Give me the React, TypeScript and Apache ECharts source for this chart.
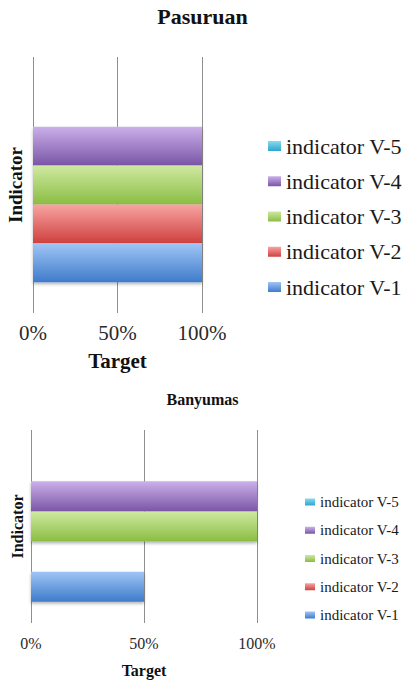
import React, { useEffect, useRef } from "react";
import * as echarts from "echarts";

// Indicator series, listed bottom (V-1) to top (V-5)
const indicators = ["indicator V-1", "indicator V-2", "indicator V-3", "indicator V-4", "indicator V-5"];
// Share of target reached, in percent
const pasuruanValues = [100, 100, 100, 100, 0];
const banyumasValues = [50, 0, 100, 100, 0];
const targetTicks = [0, 50, 100];

// Bar gradient stops (top light, bottom dark)
const barTop = ["#a0c5f6", "#f7a4a3", "#cfe9a1", "#cbb0ea", "#88dbf0"];
const barBottom = ["#3e7bcb", "#cf403e", "#8abd43", "#7a55a6", "#2ca6cd"];

const FONT = "Liberation Serif";

type Layout = {
  title: string;
  values: number[];
  titleTop: number;
  titleSize: number;
  grid: { left: number; right: number; top: number; bottom: number };
  tickSize: number;
  tickMargin: number;
  nameSize: number;
  xNameGap: number;
  yNameSize: number;
  yNameGap: number;
  categoryGap: string;
  legendLeft: number;
  legendTop: number;
  legendSize: number;
  legendLine: number;
  legendGap: number;
  legendWeight: string;
  iconW: number;
  iconH: number;
};

function buildOption(l: Layout) {
  const step = targetTicks[1] - targetTicks[0];
  // The first bar series sits at the top of the band, so V-5 goes first.
  const order = indicators.map((_, i) => indicators.length - 1 - i);
  return {
    animation: false,
    title: {
      text: l.title,
      left: "center",
      top: l.titleTop,
      textStyle: { fontFamily: FONT, fontWeight: "bold", fontSize: l.titleSize, color: "#111" },
    },
    legend: {
      orient: "vertical",
      left: l.legendLeft,
      top: l.legendTop,
      icon: "rect",
      itemWidth: l.iconW,
      itemHeight: l.iconH,
      itemGap: l.legendGap,
      itemTextGap: 3,
      selectedMode: false,
      data: order.map((i) => indicators[i]),
      textStyle: {
        fontFamily: FONT,
        fontSize: l.legendSize,
        lineHeight: l.legendLine,
        fontWeight: l.legendWeight,
        color: "#1a1a1a",
      },
    },
    grid: { ...l.grid, containLabel: false },
    xAxis: {
      type: "value",
      min: targetTicks[0],
      max: targetTicks[targetTicks.length - 1],
      interval: step,
      name: "Target",
      nameLocation: "middle",
      nameGap: l.xNameGap,
      nameTextStyle: { fontFamily: FONT, fontWeight: "bold", fontSize: l.nameSize, color: "#111" },
      axisLine: { show: false },
      axisTick: { show: false },
      axisLabel: {
        formatter: "{value}%",
        margin: l.tickMargin,
        fontFamily: FONT,
        fontSize: l.tickSize,
        color: "#2a2a2a",
      },
      splitLine: { show: true, lineStyle: { color: "#8e8e8e", width: 1 } },
    },
    yAxis: {
      type: "category",
      data: [""],
      name: "Indicator",
      nameLocation: "middle",
      nameRotate: 90,
      nameGap: l.yNameGap,
      nameTextStyle: { fontFamily: FONT, fontWeight: "bold", fontSize: l.yNameSize, color: "#111" },
      axisLine: { show: false },
      axisTick: { show: false },
      axisLabel: { show: false },
      splitLine: { show: false },
    },
    series: order.map((i) => ({
      type: "bar",
      name: indicators[i],
      data: [l.values[i]],
      barGap: "0%",
      barCategoryGap: l.categoryGap,
      itemStyle: {
        color: new echarts.graphic.LinearGradient(0, 0, 0, 1, [
          { offset: 0, color: barTop[i] },
          { offset: 1, color: barBottom[i] },
        ]),
        shadowColor: "rgba(0,0,0,0.28)",
        shadowBlur: 3,
        shadowOffsetY: 2,
      },
    })),
  };
}

const pasuruanLayout: Layout = {
  title: "Pasuruan",
  values: pasuruanValues,
  titleTop: 0,
  titleSize: 22,
  grid: { left: 33, right: 203, top: 57, bottom: 67 },
  tickSize: 21,
  tickMargin: 9,
  nameSize: 21,
  xNameGap: 37,
  yNameSize: 19,
  yNameGap: 8,
  categoryGap: "24%",
  legendLeft: 263,
  legendTop: 130,
  legendSize: 22,
  legendLine: 22,
  legendGap: 13.25,
  legendWeight: "normal",
  iconW: 13,
  iconH: 10,
};

const banyumasLayout: Layout = {
  title: "Banyumas",
  values: banyumasValues,
  titleTop: 6,
  titleSize: 16,
  grid: { left: 31, right: 148, top: 50, bottom: 55 },
  tickSize: 16,
  tickMargin: 12,
  nameSize: 16,
  xNameGap: 39,
  yNameSize: 16,
  yNameGap: 6,
  categoryGap: "22%",
  legendLeft: 300,
  legendTop: 108.5,
  legendSize: 15,
  legendLine: 17,
  legendGap: 11.25,
  legendWeight: "normal",
  iconW: 10,
  iconH: 7,
};

function RegionChart({ layout, height }: { layout: Layout; height: number }) {
  const ref = useRef<HTMLDivElement>(null);
  useEffect(() => {
    if (!ref.current) return;
    const chart = echarts.init(ref.current, undefined, { renderer: "svg" });
    chart.setOption(buildOption(layout));
    return () => chart.dispose();
  }, [layout]);
  return <div ref={ref} style={{ width: 405, height }} />;
}

export default function App() {
  return (
    <div style={{ position: "absolute", left: 0, top: 0, width: 405, height: 683, background: "#fff" }}>
      <RegionChart layout={pasuruanLayout} height={380} />
      <RegionChart layout={banyumasLayout} height={303} />
    </div>
  );
}
